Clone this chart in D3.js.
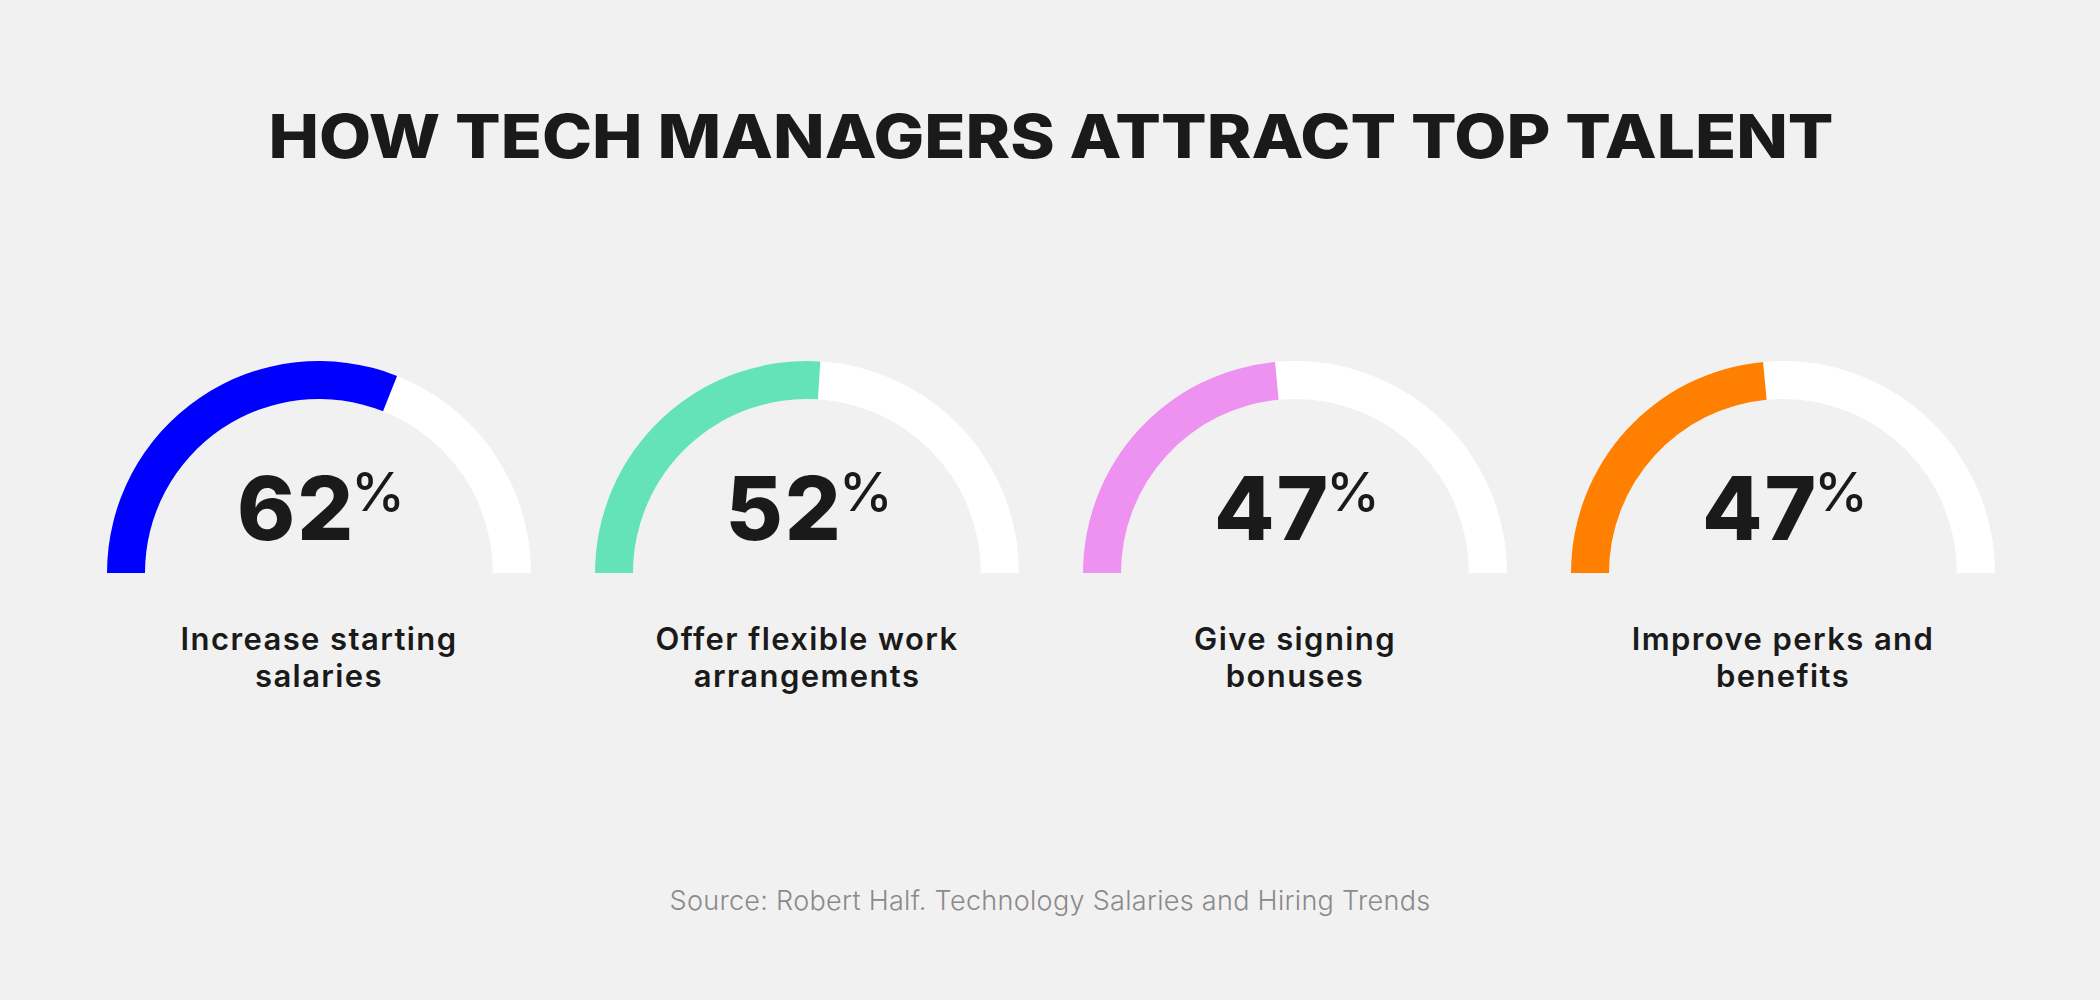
<!DOCTYPE html>
<html>
<head>
<meta charset="utf-8">
<script src="https://cdn.jsdelivr.net/npm/d3@7"></script>
<style>
  html, body { margin: 0; padding: 0; background: #f1f1f1; }
  svg { display: block; }
</style>
</head>
<body>
<div id="gauges"></div>
<script>
// data
const categories = [
    ["Increase starting", "salaries"],
    ["Offer flexible work", "arrangements"],
    ["Give signing", "bonuses"],
    ["Improve perks and", "benefits"]
];
const percents = [62, 52, 47, 47];
const colors = ["#0000ff", "#63e3b7", "#ee92f2", "#ff7f00"];

const title = "HOW TECH MANAGERS ATTRACT TOP TALENT";
const source = "Source: Robert Half. Technology Salaries and Hiring Trends";

const drawGauges = () => {
    const width = 2100;
    const height = 1000;
    const baseY = 573;          // flat bottom of the gauges
    const outerR = 212;
    const innerR = 174;
    const ink = "#1a1a1a";
    const font = "Inter, 'Noto Sans', sans-serif";

    const svg = d3.select("#gauges")
        .append("svg")
        .attr("width", width)
        .attr("height", height)
        .attr("viewBox", `0 0 ${width} ${height}`);

    svg.append("rect")
        .attr("width", width)
        .attr("height", height)
        .attr("fill", "#f1f1f1");

    // Title
    svg.append("text")
        .text(title)
        .attr("x", 1051)
        .attr("y", 158)
        .attr("text-anchor", "middle")
        .attr("font-family", font)
        .attr("font-weight", 800)
        .attr("font-size", 61)
        .attr("textLength", 1565)
        .attr("lengthAdjust", "spacingAndGlyphs")
        .attr("fill", ink);

    // one position per gauge
    const xScale = d3.scalePoint()
        .domain(d3.range(percents.length))
        .range([319, 1783]);

    // percent -> angle, half circle from left to right
    const angle = d3.scaleLinear()
        .domain([0, 100])
        .range([-Math.PI / 2, Math.PI / 2]);

    const arc = d3.arc()
        .innerRadius(innerR)
        .outerRadius(outerR);

    const gauge = svg.selectAll(".gauge")
        .data(percents)
        .join("g")
            .attr("class", "gauge")
            .attr("transform", (d, i) => `translate(${xScale(i)},${baseY})`);

    // white track
    gauge.append("path")
        .attr("d", arc({ startAngle: angle(0), endAngle: angle(100) }))
        .attr("fill", "#ffffff");

    // value
    gauge.append("path")
        .attr("d", d => arc({ startAngle: angle(0), endAngle: angle(d) }))
        .attr("fill", (d, i) => colors[i]);

    // big number
    const num = gauge.append("text")
        .attr("x", 2)
        .attr("y", -33)
        .attr("text-anchor", "middle")
        .attr("font-family", font)
        .attr("fill", ink);

    num.append("tspan")
        .text(d => d)
        .attr("font-weight", 800)
        .attr("font-size", 88)
        .attr("letter-spacing", 2);

    num.append("tspan")
        .text("%")
        .attr("dx", -4)
        .attr("dy", -29)
        .attr("font-weight", 500)
        .attr("font-size", 54);

    // labels
    const label = gauge.append("text")
        .attr("text-anchor", "middle")
        .attr("font-family", font)
        .attr("font-weight", 600)
        .attr("font-size", 31)
        .attr("letter-spacing", 1.4)
        .attr("fill", ink);

    label.selectAll("tspan")
        .data((d, i) => categories[i])
        .join("tspan")
            .text(d => d)
            .attr("x", 0)
            .attr("y", (d, j) => 77 + j * 37);

    // source note
    svg.append("text")
        .text(source)
        .attr("x", 1050)
        .attr("y", 910)
        .attr("text-anchor", "middle")
        .attr("font-family", font)
        .attr("font-weight", 300)
        .attr("font-size", 27)
        .attr("letter-spacing", 0.3)
        .attr("fill", "#8a8a8a");
};

drawGauges();
</script>
</body>
</html>
